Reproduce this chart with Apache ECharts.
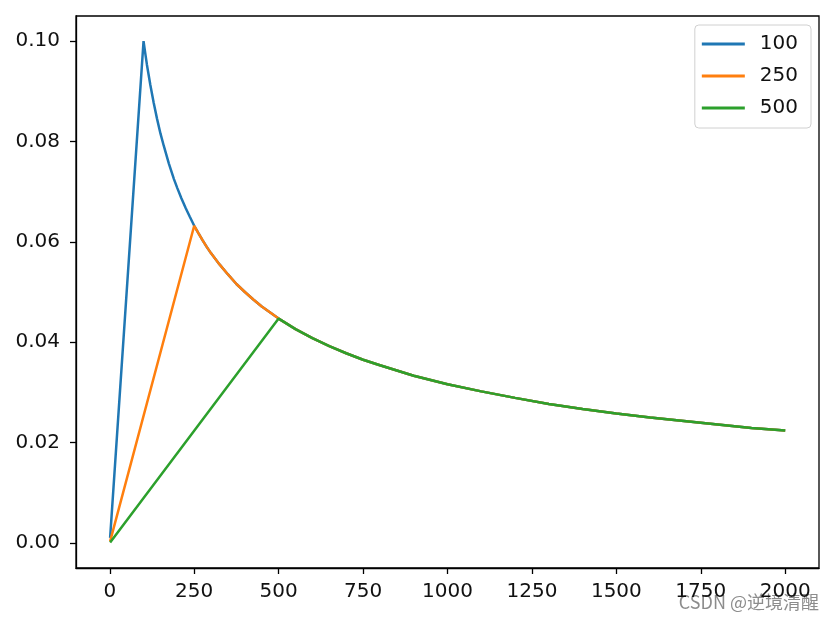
<!DOCTYPE html>
<html>
<head>
<meta charset="utf-8">
<script src="https://cdn.jsdelivr.net/npm/echarts@6/dist/echarts.min.js"></script>
<style>html,body{margin:0;padding:0;background:#fff}#c{width:834px;height:619px}</style>
</head>
<body>
<div id="c"></div>
<script>
// Series names (warmup steps)
const seriesNames = ['100', '250', '500'];
// Shared decay part (step, value)
const decaySteps = [100,105,110,115,120,130,140,150,160,175,190,200,212,225,237,250,262,275,287,300,325,350,375,400,425,450,475,500,550,600,650,700,750,800,900,1000,1100,1200,1300,1400,1500,1600,1700,1800,1900,2000];
const decayValues = [0.1,0.0976,0.0953,0.0933,0.0913,0.0877,0.0845,0.0816,0.0791,0.0756,0.0725,0.0707,0.0687,0.0667,0.0650,0.0632,0.0618,0.0603,0.0590,0.0577,0.0555,0.0535,0.0516,0.0500,0.0485,0.0471,0.0459,0.0447,0.0426,0.0408,0.0392,0.0378,0.0365,0.0354,0.0333,0.0316,0.0302,0.0289,0.0277,0.0267,0.0258,0.0250,0.0243,0.0236,0.0229,0.0224];
// Start points of each warmup ramp
const startSteps = [1, 1, 1];
const startValues = [0.001, 0.0003, 0.0001];
// Peak steps of each warmup
const peakSteps = [100, 250, 500];
const xTicks = [0,250,500,750,1000,1250,1500,1750,2000];
const yTicks = [0,0.02,0.04,0.06,0.08,0.10];
const colors = ['#1f77b4', '#ff7f0e', '#2ca02c'];

function buildSeries(i) {
  const d = [[startSteps[i], startValues[i]]];
  for (let k = 0; k < decaySteps.length; k++) {
    if (decaySteps[k] >= peakSteps[i]) d.push([decaySteps[k], decayValues[k]]);
  }
  return d;
}

const chart = echarts.init(document.getElementById('c'));
const font = 'DejaVu Sans';
chart.setOption({
  animation: false,
  color: colors,
  grid: {left: 76, top: 16, right: 15, bottom: 51, show: true, borderColor: '#000', borderWidth: 1.3, backgroundColor: 'transparent'},
  legend: {
    data: seriesNames,
    orient: 'vertical', right: 23, top: 25,
    padding: [9, 13, 10, 7],
    itemWidth: 43, itemHeight: 3, itemGap: 12,
    icon: 'rect',
    borderColor: '#d0d0d0', borderWidth: 1, borderRadius: 4,
    textStyle: {fontFamily: font, fontSize: 20, color: '#111', padding: [0, 0, 0, 10]}
  },
  xAxis: {
    type: 'value', min: -100, max: 2100,
    splitLine: {show: false},
    axisLine: {show: true, onZero: false, lineStyle: {color: '#000', width: 1.3}},
    axisTick: {show: true, length: 6, customValues: xTicks, lineStyle: {color: '#000', width: 1.3}},
    axisLabel: {customValues: xTicks, fontFamily: font, fontSize: 20, color: '#111', margin: 14,
      formatter: v => String(v)}
  },
  yAxis: {
    type: 'value', min: -0.005, max: 0.105,
    splitLine: {show: false},
    axisLine: {show: true, onZero: false, lineStyle: {color: '#000', width: 1.3}},
    axisTick: {show: true, length: 6, customValues: yTicks, lineStyle: {color: '#000', width: 1.3}},
    axisLabel: {customValues: yTicks, fontFamily: font, fontSize: 20, color: '#111', margin: 16,
      formatter: v => v.toFixed(2)}
  },
  series: seriesNames.map((n, i) => ({
    name: n, type: 'line', data: buildSeries(i), showSymbol: false, symbol: 'none',
    lineStyle: {width: 2.5, color: colors[i]}
  })),
  graphic: [{
    type: 'text', right: 15, bottom: 8,
    style: {text: 'CSDN @逆境清醒', fontFamily: 'Noto Sans CJK SC', fontSize: 18, fill: 'rgba(120,120,120,0.85)'}
  }]
});
</script>
</body>
</html>
